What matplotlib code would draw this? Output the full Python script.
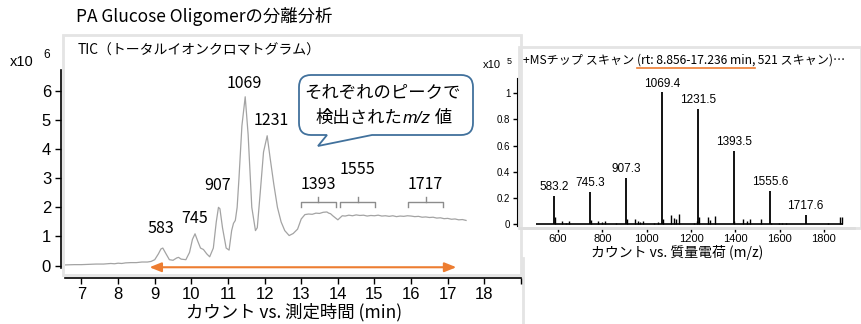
import matplotlib
matplotlib.use("Agg")
import matplotlib.pyplot as plt
from matplotlib.path import Path
from matplotlib.patches import PathPatch, Rectangle
from matplotlib.lines import Line2D

JP = ["Noto Sans CJK JP", "DejaVu Sans"]
ARIAL = ["Liberation Sans", "DejaVu Sans"]
ORANGE = "#ED7D31"

# TIC trace: retention time (min) vs counts (x10^6)
tic_time = [6.55, 6.8, 7.0, 7.2, 7.4, 7.6, 7.8, 7.9, 8.0, 8.1, 8.2, 8.35, 8.5, 8.65, 8.8, 8.9,
            9.0, 9.1, 9.17, 9.22, 9.3, 9.4, 9.5, 9.6, 9.65, 9.72, 9.85, 9.95, 10.03, 10.1,
            10.17, 10.25, 10.33, 10.42, 10.5, 10.6, 10.68, 10.74, 10.78, 10.85, 10.95, 11.03,
            11.1, 11.15, 11.2, 11.25, 11.3, 11.38, 11.47, 11.55, 11.65, 11.75, 11.8, 11.88,
            11.97, 12.07, 12.15, 12.25, 12.35, 12.45, 12.55, 12.67, 12.78, 12.9, 13.0, 13.1,
            13.2, 13.3, 13.4, 13.5, 13.6, 13.7, 13.75, 13.8, 13.87, 13.95, 14.0, 14.05, 14.12,
            14.2, 14.3, 14.4, 14.5, 14.6, 14.7, 14.8, 14.9, 15.0, 15.1, 15.2, 15.3, 15.4, 15.5,
            15.6, 15.7, 15.8, 15.9, 16.0, 16.1, 16.2, 16.3, 16.4, 16.5, 16.6, 16.7, 16.8, 16.9,
            17.0, 17.1, 17.2, 17.3, 17.4, 17.5]
tic_counts = [0.02, 0.03, 0.03, 0.04, 0.05, 0.05, 0.07, 0.06, 0.08, 0.07, 0.09, 0.10, 0.10, 0.12, 0.12, 0.14,
              0.20, 0.40, 0.57, 0.60, 0.42, 0.20, 0.18, 0.26, 0.28, 0.22, 0.20, 0.45, 0.90, 1.09,
              0.85, 0.60, 0.55, 0.40, 0.30, 0.60, 1.50, 2.00, 1.95, 1.30, 0.60, 0.53,
              1.20, 1.45, 1.55, 2.00, 3.00, 4.80, 5.80, 4.50, 2.00, 1.20, 1.30, 2.50,
              3.90, 4.46, 3.70, 2.80, 2.00, 1.50, 1.20, 1.03, 1.10, 1.25, 1.60, 1.75,
              1.77, 1.76, 1.80, 1.79, 1.83, 1.84, 1.80, 1.78, 1.70, 1.62, 1.57, 1.63, 1.71,
              1.70, 1.73, 1.71, 1.74, 1.72, 1.73, 1.70, 1.72, 1.71, 1.73, 1.70, 1.71, 1.69, 1.71,
              1.68, 1.70, 1.69, 1.71, 1.70, 1.68, 1.69, 1.66, 1.67, 1.65, 1.66, 1.63, 1.64, 1.61,
              1.62, 1.59, 1.60, 1.57, 1.58, 1.55]

peak_labels = ["583", "745", "907", "1069", "1231"]
peak_label_time = [9.17, 10.09, 10.71, 11.45, 12.19]
peak_label_level = [1.27, 1.62, 2.76, 6.26, 5.0]

window_labels = ["1393", "1555", "1717"]
window_start = [12.99, 14.06, 15.92]
window_end = [13.94, 15.02, 16.87]
window_label_level = [2.79, 3.3, 2.79]

scan_range = [8.856, 17.236]

tic_yticks = [0, 1, 2, 3, 4, 5, 6]
tic_xticks = [7, 8, 9, 10, 11, 12, 13, 14, 15, 16, 17, 18, 19]
tic_xticklabels = ["7", "8", "9", "10", "11", "12", "13", "14", "15", "16", "17", "18", ""]

# averaged MS spectrum: m/z vs counts (x10^5)
ms_major_mz = [583.2, 745.3, 907.3, 1069.4, 1231.5, 1393.5, 1555.6, 1717.6]
ms_major_int = [0.217, 0.245, 0.354, 1.007, 0.878, 0.558, 0.256, 0.070]
ms_minor_mz = [586, 618, 634, 649, 749, 780, 796, 813, 863, 911, 948, 960, 971, 983,
               1035, 1050, 1073, 1110, 1125, 1133, 1145, 1215, 1226, 1235, 1275, 1286,
               1310, 1395, 1436, 1451, 1466, 1518, 1560, 1598, 1613, 1628, 1820, 1873, 1880]
ms_minor_int = [0.055, 0.02, 0.01, 0.02, 0.03, 0.025, 0.015, 0.025, 0.008, 0.035, 0.035, 0.02,
                0.015, 0.025, 0.01, 0.012, 0.04, 0.07, 0.045, 0.035, 0.08, 0.01, 0.025, 0.05,
                0.05, 0.03, 0.065, 0.02, 0.035, 0.02, 0.035, 0.035, 0.01, 0.01, 0.01, 0.01,
                0.01, 0.055, 0.05]
ms_range = [499, 1887]

ms_xticks = [600, 800, 1000, 1200, 1400, 1600, 1800]
ms_yticks = [0, 0.2, 0.4, 0.6, 0.8, 1.0]
ms_yticklabels = ["0", "0.2", "0.4", "0.6", "0.8", "1"]

W, H = 862, 324
fig = plt.figure(figsize=(W / 100, H / 100), dpi=100)
fig.patch.set_facecolor("white")


def put_run(x, y, pieces, ha="left", va="center"):
    # lay out several text pieces side by side; x, y in pixels from top-left
    r = fig.canvas.get_renderer()
    texts = [fig.text(0, 1 - y / H, s, va=va, **kw) for s, kw in pieces]
    widths = [t.get_window_extent(r).width for t in texts]
    if ha == "center":
        x = x - sum(widths) / 2
    for t, w in zip(texts, widths):
        t.set_x(x / W)
        x += w
    return texts


# panel frames
fig.add_artist(Rectangle((63 / W, 1 - 275 / H), 458.5 / W, 240 / H, transform=fig.transFigure,
                         fill=False, ec="#e4e4e4", lw=2, zorder=0))
fig.add_artist(Rectangle((519 / W, 1 - 228 / H), 342 / W, 181 / H, transform=fig.transFigure,
                         fill=False, ec="#e4e4e4", lw=2, zorder=0))
fig.add_artist(Line2D([523 / W, 523 / W], [1 - 258 / H, 0], transform=fig.transFigure,
                      color="#e4e4e4", lw=2, zorder=0))

# ---- TIC ----
ax1 = fig.add_axes([65 / W, 1 - 277.5 / H, 456 / W, 207.5 / H])
ax1.patch.set_alpha(0)
ax1.plot(tic_time, tic_counts, color="#a3a3a3", lw=0.9)
ax1.set_xlim(6.55, 18.99)
ax1.set_ylim(-0.412, 6.72)
for s in ["top", "right"]:
    ax1.spines[s].set_visible(False)
ax1.spines["left"].set_position(("outward", 3))
ax1.spines["left"].set_bounds(-0.1, 6.72)
ax1.spines["left"].set_linewidth(1.2)
ax1.spines["bottom"].set_linewidth(1.2)
ax1.set_yticks(tic_yticks)
ax1.set_xticks(tic_xticks)
ax1.set_xticklabels(tic_xticklabels)
ax1.tick_params(length=4, width=1, labelsize=12, pad=3)
for lab in ax1.get_xticklabels() + ax1.get_yticklabels():
    lab.set_family(ARIAL)

for lab, t, v in zip(peak_labels, peak_label_time, peak_label_level):
    ax1.text(t, v, lab, ha="center", va="center", fontsize=11.5, family=JP)

for lab, s, e, v in zip(window_labels, window_start, window_end, window_label_level):
    m = (s + e) / 2
    ax1.plot([s, s, e, e], [2.02, 2.18, 2.18, 2.02], color="#8c8c8c", lw=1)
    ax1.plot([m, m], [2.18, 2.35], color="#8c8c8c", lw=1)
    ax1.text(m, v, lab, ha="center", va="center", fontsize=11.5, family=JP)

ax1.annotate("", xy=(scan_range[1], -0.06), xytext=(scan_range[0], -0.06),
             arrowprops=dict(arrowstyle="<|-|>,head_length=0.5,head_width=0.2",
                             color=ORANGE, lw=1.5, mutation_scale=14,
                             shrinkA=0, shrinkB=0))

# ---- MS spectrum ----
ax2 = fig.add_axes([520 / W, 1 - 228 / H, 334 / W, 150 / H])
ax2.patch.set_alpha(0)
ax2.hlines(0, ms_range[0], ms_range[1], color="black", lw=1.2)
ax2.vlines(ms_minor_mz, 0, ms_minor_int, color="black", lw=1.0)
ax2.vlines(ms_major_mz, 0, ms_major_int, color="black", lw=1.3)
for mz, h in zip(ms_major_mz, ms_major_int):
    ax2.text(mz, h + 0.022, f"{mz:.1f}", ha="center", va="bottom", fontsize=8.5, family=ARIAL)
ax2.set_xlim(428, 1936)
ax2.set_ylim(-0.0306, 1.117)
for s in ["top", "right"]:
    ax2.spines[s].set_visible(False)
ax2.spines["left"].set_position(("outward", 2))
ax2.spines["left"].set_bounds(-0.015, 1.117)
ax2.spines["bottom"].set_color("#dedede")
ax2.spines["bottom"].set_linewidth(2)
ax2.set_xticks(ms_xticks)
ax2.set_yticks(ms_yticks)
ax2.set_yticklabels(ms_yticklabels)
ax2.tick_params(axis="x", length=3, width=1, labelsize=8, pad=1.5, color="black")
ax2.tick_params(axis="y", length=3, width=1, labelsize=7, pad=2)
for lab in ax2.get_xticklabels() + ax2.get_yticklabels():
    lab.set_family(ARIAL)

# ---- texts ----
fig.text(76 / W, 1 - 17 / H, "PA Glucose Oligomerの分離分析", fontsize=12.5,
         family=JP, va="center")
fig.text(78 / W, 1 - 51 / H, "TIC（トータルイオンクロマトグラム）", fontsize=10,
         family=JP, va="center")
fig.text(10 / W, 1 - 62 / H, "x10", fontsize=10.5, family=ARIAL, va="center")
fig.text(47 / W, 1 - 55 / H, "6", fontsize=8.5, family=ARIAL, va="center", ha="center")
fig.text(294 / W, 1 - 312 / H, "カウント vs. 測定時間 (min)", fontsize=12.5, family=JP,
         ha="center", va="center")

fig.text(483 / W, 1 - 65 / H, "x10", fontsize=8, family=ARIAL, va="center")
fig.text(509 / W, 1 - 61 / H, "5", fontsize=6.5, family=ARIAL, va="center", ha="center")
fig.text(677 / W, 1 - 252 / H, "カウント vs. 質量電荷 (m/z)", fontsize=10, family=JP,
         ha="center", va="center")

title_parts = put_run(523, 60, [("+MSチップ スキャン ", dict(fontsize=8.7, family=JP)),
                                ("(rt: 8.856-17.236 min,", dict(fontsize=8.7, family=JP)),
                                (" 521 スキャン)…", dict(fontsize=8.7, family=JP))])
r = fig.canvas.get_renderer()
bb = title_parts[1].get_window_extent(r)
fig.add_artist(Line2D([bb.x0 / W, bb.x1 / W], [1 - 68.5 / H] * 2, transform=fig.transFigure,
                      color=ORANGE, lw=1.2))

# callout bubble (inches, figure space)
x0, x1, y0, y1, rr = 2.99, 4.73, 1.89, 2.49, 0.12
bx0, bx1, tip = 3.27, 3.72, (3.18, 1.78)
verts = [(bx1, y0), (x1 - rr, y0), (x1, y0), (x1, y0 + rr), (x1, y1 - rr), (x1, y1),
         (x1 - rr, y1), (x0 + rr, y1), (x0, y1), (x0, y1 - rr), (x0, y0 + rr), (x0, y0),
         (x0 + rr, y0), (bx0, y0), tip, (bx1, y0)]
codes = [Path.MOVETO, Path.LINETO, Path.CURVE3, Path.CURVE3, Path.LINETO, Path.CURVE3,
         Path.CURVE3, Path.LINETO, Path.CURVE3, Path.CURVE3, Path.LINETO, Path.CURVE3,
         Path.CURVE3, Path.LINETO, Path.LINETO, Path.CLOSEPOLY]
fig.add_artist(PathPatch(Path(verts, codes), transform=fig.dpi_scale_trans,
                         fc="white", ec="#41719C", lw=1.3, zorder=5))
fig.text(3.82 / (W / 100), 1 - 93 / H, "それぞれのピークで", fontsize=12.5, family=JP,
         ha="center", va="center", zorder=6)
put_run(384, 123, [("検出された", dict(fontsize=12.5, family=JP, zorder=6)),
                   ("m/z", dict(fontsize=12.5, family=ARIAL, style="italic", zorder=6)),
                   (" 値", dict(fontsize=12.5, family=JP, zorder=6))],
        ha="center", va="baseline")

fig.savefig("out.png", dpi=100)
